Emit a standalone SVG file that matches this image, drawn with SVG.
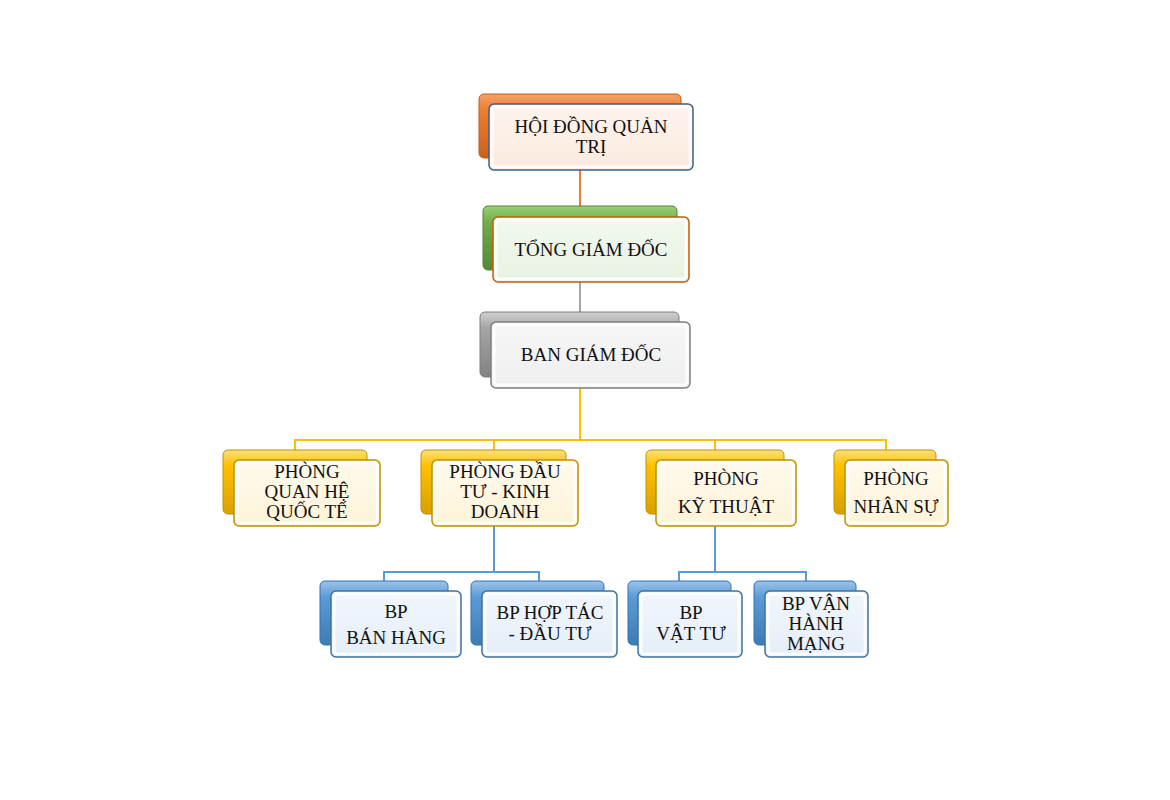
<svg xmlns="http://www.w3.org/2000/svg" width="1170" height="800" viewBox="0 0 1170 800">
<defs>
<linearGradient id="gO" x1="0" y1="0" x2="0" y2="1"><stop offset="0" stop-color="#f4a26b"/><stop offset="0.25" stop-color="#ed7d31"/><stop offset="1" stop-color="#c9621c"/></linearGradient>
<linearGradient id="gG" x1="0" y1="0" x2="0" y2="1"><stop offset="0" stop-color="#9bcf78"/><stop offset="0.25" stop-color="#70ad47"/><stop offset="1" stop-color="#548a33"/></linearGradient>
<linearGradient id="gA" x1="0" y1="0" x2="0" y2="1"><stop offset="0" stop-color="#cfcfcf"/><stop offset="0.25" stop-color="#a5a5a5"/><stop offset="1" stop-color="#828282"/></linearGradient>
<linearGradient id="gY" x1="0" y1="0" x2="0" y2="1"><stop offset="0" stop-color="#ffe07a"/><stop offset="0.25" stop-color="#ffc000"/><stop offset="1" stop-color="#d9a000"/></linearGradient>
<linearGradient id="gB" x1="0" y1="0" x2="0" y2="1"><stop offset="0" stop-color="#9cc3ea"/><stop offset="0.25" stop-color="#5b9bd5"/><stop offset="1" stop-color="#3f7bb5"/></linearGradient>
<linearGradient id="fO" x1="0" y1="0" x2="0" y2="1"><stop offset="0" stop-color="#fdf3ec"/><stop offset="1" stop-color="#fbebe0"/></linearGradient>
<linearGradient id="fG" x1="0" y1="0" x2="0" y2="1"><stop offset="0" stop-color="#f2f8ee"/><stop offset="1" stop-color="#e8f2e2"/></linearGradient>
<linearGradient id="fA" x1="0" y1="0" x2="0" y2="1"><stop offset="0" stop-color="#f7f7f7"/><stop offset="1" stop-color="#eeeeee"/></linearGradient>
<linearGradient id="fY" x1="0" y1="0" x2="0" y2="1"><stop offset="0" stop-color="#fffaec"/><stop offset="1" stop-color="#fdf3d8"/></linearGradient>
<linearGradient id="fB" x1="0" y1="0" x2="0" y2="1"><stop offset="0" stop-color="#f1f6fc"/><stop offset="1" stop-color="#e5eef8"/></linearGradient>
</defs>
<style>
.back{stroke-width:1}
.front{stroke-width:1.5}
.hl{fill:none;stroke:#ffffff;stroke-width:3;opacity:0.8}
.t{font-family:"Liberation Serif","Times New Roman",serif;font-size:19px;fill:#111111;text-anchor:middle}
.c{fill:none;stroke-width:2}
</style>
<rect width="1170" height="800" fill="#ffffff"/>
<g id="connectors">
<line class="c" x1="580" y1="158" x2="580" y2="217" stroke="#ed7d31"/>
<line class="c" x1="580" y1="270" x2="580" y2="322" stroke="#a5a5a5"/>
<path class="c" d="M580 377 V440 M295 450 V440 H886 V450 M494 440 V450 M715 440 V450" stroke="#ffc000"/>
<path class="c" d="M494 526 V572 M384 581 V572 H539 V581" stroke="#5b9bd5"/>
<path class="c" d="M715 526 V572 M679 581 V572 H806 V581" stroke="#5b9bd5"/>
</g>
<g id="n1">
<rect class="back" x="479" y="94" width="202" height="64" rx="5" fill="url(#gO)" stroke="#c55a11"/>
<rect class="front" x="489" y="104" width="204" height="66" rx="5" fill="url(#fO)" stroke="#3d5f86"/>
<rect class="hl" x="492" y="107" width="198" height="60" rx="4"/>
<text class="t" x="591" y="133">HỘI ĐỒNG QUẢN</text>
<text class="t" x="591" y="153">TRỊ</text>
</g>
<g id="n2">
<rect class="back" x="483" y="206" width="194" height="64" rx="5" fill="url(#gG)" stroke="#548235"/>
<rect class="front" x="493" y="217" width="196" height="65" rx="5" fill="url(#fG)" stroke="#c55a11"/>
<rect class="hl" x="496" y="220" width="190" height="59" rx="4"/>
<text class="t" x="591" y="256">TỔNG GIÁM ĐỐC</text>
</g>
<g id="n3">
<rect class="back" x="480" y="312" width="199" height="65" rx="5" fill="url(#gA)" stroke="#7f7f7f"/>
<rect class="front" x="491" y="322" width="199" height="66" rx="5" fill="url(#fA)" stroke="#7f7f7f"/>
<rect class="hl" x="494" y="325" width="193" height="60" rx="4"/>
<text class="t" x="591" y="361">BAN GIÁM ĐỐC</text>
</g>
<g id="n4">
<rect class="back" x="223" y="450" width="144" height="64" rx="5" fill="url(#gY)" stroke="#bf9000"/>
<rect class="front" x="234" y="460" width="146" height="66" rx="5" fill="url(#fY)" stroke="#bf9000"/>
<rect class="hl" x="237" y="463" width="140" height="60" rx="4"/>
<text class="t" x="307" y="478">PHÒNG</text>
<text class="t" x="307" y="498">QUAN HỆ</text>
<text class="t" x="307" y="518">QUỐC TẾ</text>
</g>
<g id="n5">
<rect class="back" x="421" y="450" width="145" height="64" rx="5" fill="url(#gY)" stroke="#bf9000"/>
<rect class="front" x="432" y="460" width="146" height="66" rx="5" fill="url(#fY)" stroke="#bf9000"/>
<rect class="hl" x="435" y="463" width="140" height="60" rx="4"/>
<text class="t" x="505" y="478">PHÒNG ĐẦU</text>
<text class="t" x="505" y="498">TƯ - KINH</text>
<text class="t" x="505" y="518">DOANH</text>
</g>
<g id="n6">
<rect class="back" x="646" y="450" width="138" height="64" rx="5" fill="url(#gY)" stroke="#bf9000"/>
<rect class="front" x="656" y="460" width="140" height="66" rx="5" fill="url(#fY)" stroke="#bf9000"/>
<rect class="hl" x="659" y="463" width="134" height="60" rx="4"/>
<text class="t" x="726" y="485">PHÒNG</text>
<text class="t" x="726" y="513">KỸ THUẬT</text>
</g>
<g id="n7">
<rect class="back" x="834" y="450" width="102" height="64" rx="5" fill="url(#gY)" stroke="#bf9000"/>
<rect class="front" x="845" y="460" width="103" height="66" rx="5" fill="url(#fY)" stroke="#bf9000"/>
<rect class="hl" x="848" y="463" width="97" height="60" rx="4"/>
<text class="t" x="896" y="485">PHÒNG</text>
<text class="t" x="896" y="513">NHÂN SỰ</text>
</g>
<g id="n8">
<rect class="back" x="320" y="581" width="128" height="64" rx="5" fill="url(#gB)" stroke="#2e75b6"/>
<rect class="front" x="331" y="591" width="130" height="66" rx="5" fill="url(#fB)" stroke="#41719c"/>
<rect class="hl" x="334" y="594" width="124" height="60" rx="4"/>
<text class="t" x="396" y="618">BP</text>
<text class="t" x="396" y="644">BÁN HÀNG</text>
</g>
<g id="n9">
<rect class="back" x="471" y="581" width="133" height="64" rx="5" fill="url(#gB)" stroke="#2e75b6"/>
<rect class="front" x="482" y="591" width="135" height="66" rx="5" fill="url(#fB)" stroke="#41719c"/>
<rect class="hl" x="485" y="594" width="129" height="60" rx="4"/>
<text class="t" x="550" y="619">BP HỢP TÁC</text>
<text class="t" x="550" y="640">- ĐẦU TƯ</text>
</g>
<g id="n10">
<rect class="back" x="628" y="581" width="103" height="64" rx="5" fill="url(#gB)" stroke="#2e75b6"/>
<rect class="front" x="638" y="591" width="104" height="66" rx="5" fill="url(#fB)" stroke="#41719c"/>
<rect class="hl" x="641" y="594" width="98" height="60" rx="4"/>
<text class="t" x="691" y="619">BP</text>
<text class="t" x="691" y="640">VẬT TƯ</text>
</g>
<g id="n11">
<rect class="back" x="754" y="581" width="102" height="64" rx="5" fill="url(#gB)" stroke="#2e75b6"/>
<rect class="front" x="765" y="591" width="103" height="66" rx="5" fill="url(#fB)" stroke="#41719c"/>
<rect class="hl" x="768" y="594" width="97" height="60" rx="4"/>
<text class="t" x="816" y="610">BP VẬN</text>
<text class="t" x="816" y="630">HÀNH</text>
<text class="t" x="816" y="650">MẠNG</text>
</g>
</svg>
